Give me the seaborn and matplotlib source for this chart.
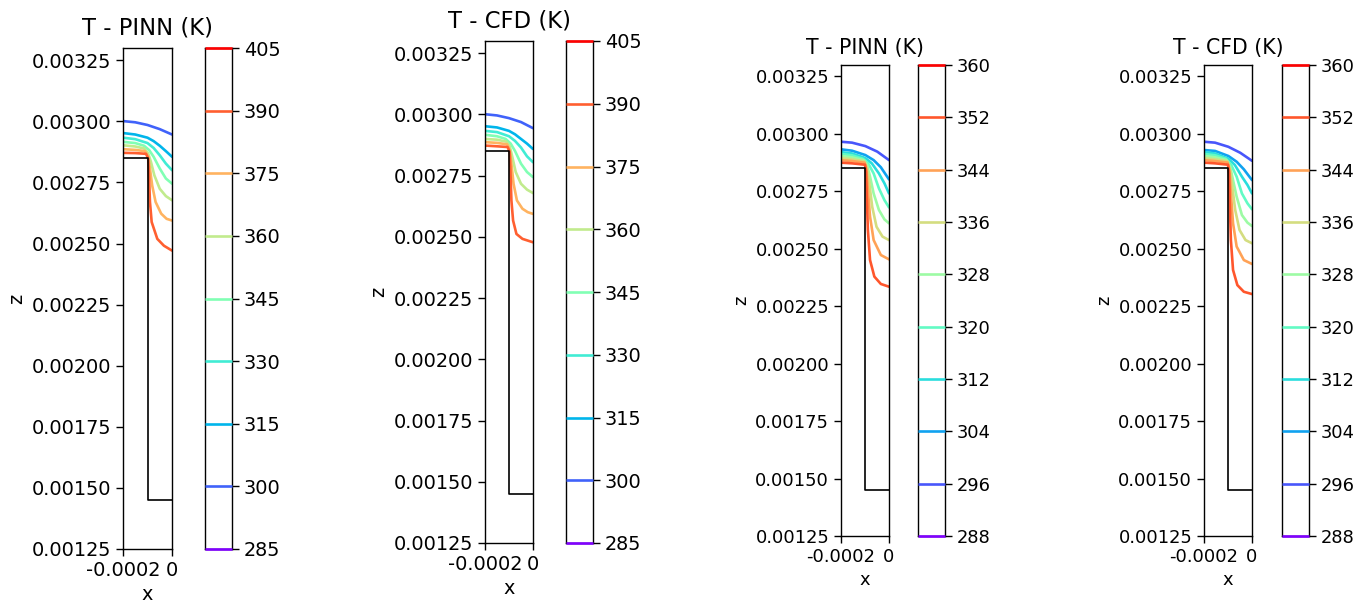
import matplotlib
matplotlib.use("Agg")
import matplotlib.pyplot as plt
import seaborn as sns

# ---------------- data ----------------
titles = ["T - PINN (K)", "T - CFD (K)", "T - PINN (K)", "T - CFD (K)"]

levels_a = [285, 300, 315, 330, 345, 360, 375, 390, 405]
levels_b = [288, 296, 304, 312, 320, 328, 336, 344, 352, 360]

z_ticks = [0.00125, 0.0015, 0.00175, 0.002, 0.00225, 0.0025, 0.00275, 0.003, 0.00325]
x_ticks = [-0.0002, 0.0]
x_tick_labels = ["-0.0002", "0"]

# solid boundary (step) outline
boundary_x = [-0.0002, -0.0001, -0.0001, 0.0]
boundary_z = [0.00285, 0.00285, 0.00145, 0.00145]

# panel 1 (PINN, case A): contour lines for levels 300..390
p1_x = [
    [-0.0002, -0.00015, -0.0001, -0.00005, 0.0],
    [-0.0002, -0.00015, -0.0001, -0.000075, -0.00005, -0.000025, 0.0],
    [-0.0002, -0.00015, -0.0001, -0.000075, -0.00005, -0.000025, 0.0],
    [-0.0002, -0.00015, -0.000114, -0.000093, -0.000075, -0.00005, -0.000025, 0.0],
    [-0.0002, -0.00015, -0.000114, -0.000097, -0.000086, -0.000072, -0.00005, -0.000025, 0.0],
    [-0.0002, -0.00015, -0.000111, -0.000097, -0.00009, -0.000081, -0.000067, -0.000044, -0.000022, 0.0],
    [-0.0002, -0.00015, -0.000106, -0.000097, -0.000094, -0.00009, -0.000083, -0.00006, -0.000033, 0.0],
]
p1_z = [
    [0.003001, 0.002996, 0.002985, 0.002968, 0.002946],
    [0.002952, 0.002946, 0.002933, 0.002919, 0.0029, 0.002878, 0.002855],
    [0.002933, 0.002927, 0.002911, 0.002891, 0.002861, 0.002827, 0.0028],
    [0.002916, 0.002911, 0.0029, 0.002882, 0.002855, 0.002807, 0.002766, 0.002745],
    [0.002902, 0.002897, 0.002889, 0.002868, 0.002834, 0.002779, 0.002724, 0.002694, 0.002677],
    [0.002886, 0.002883, 0.002878, 0.002855, 0.002807, 0.002738, 0.00267, 0.002622, 0.002601, 0.002594],
    [0.002871, 0.00287, 0.002867, 0.002848, 0.002779, 0.00267, 0.002588, 0.002519, 0.002491, 0.002471],
]

# panel 2 (CFD, case A)
p2_x = [
    [-0.0002, -0.00015, -0.0001, -0.00005, 0.0],
    [-0.0002, -0.00015, -0.0001, -0.000075, -0.00005, -0.000025, 0.0],
    [-0.0002, -0.00015, -0.0001, -0.000075, -0.00005, -0.000025, 0.0],
    [-0.0002, -0.00015, -0.000114, -0.000093, -0.000075, -0.00005, -0.000025, 0.0],
    [-0.0002, -0.00015, -0.000111, -0.000097, -0.000086, -0.000072, -0.00005, -0.000025, 0.0],
    [-0.0002, -0.00015, -0.000108, -0.000097, -0.00009, -0.000081, -0.000067, -0.000044, -0.000022, 0.0],
    [-0.0002, -0.00015, -0.000106, -0.000097, -0.000094, -0.00009, -0.000083, -0.000069, -0.000044, 0.0],
]
p2_z = [
    [0.003001, 0.002996, 0.002985, 0.002969, 0.002944],
    [0.002952, 0.002947, 0.002933, 0.002919, 0.0029, 0.002881, 0.002859],
    [0.002933, 0.002928, 0.002911, 0.002892, 0.002865, 0.002829, 0.002805],
    [0.002917, 0.002911, 0.0029, 0.002881, 0.002851, 0.002799, 0.002765, 0.002744],
    [0.0029, 0.002897, 0.002889, 0.00287, 0.002826, 0.002765, 0.002717, 0.002693, 0.002679],
    [0.002887, 0.002884, 0.002878, 0.002854, 0.002799, 0.002717, 0.002649, 0.002615, 0.002601, 0.002594],
    [0.002873, 0.00287, 0.002867, 0.002847, 0.002772, 0.002649, 0.002567, 0.002512, 0.002492, 0.002478],
]

# panels 3 & 4 (case B): contour lines for levels 296..352 (shared x samples)
pb_x = [
    [-0.0002, -0.000154, -0.0000985, -0.000049, 0.0],
    [-0.0002, -0.000154, -0.0000985, -0.000064, -0.000034, 0.0],
    [-0.0002, -0.000154, -0.0000985, -0.0000716, -0.000042, -0.000019, 0.0],
    [-0.0002, -0.000154, -0.000109, -0.0000866, -0.000064, -0.000042, -0.000019, 0.0],
    [-0.0002, -0.000154, -0.000106, -0.000091, -0.000079, -0.000064, -0.000042, -0.000019, 0.0],
    [-0.0002, -0.000154, -0.000103, -0.000091, -0.000082, -0.00007, -0.000052, -0.000027, 0.0],
    [-0.0002, -0.000154, -0.0001015, -0.000094, -0.000088, -0.000079, -0.000064, -0.000034, 0.0],
    [-0.0002, -0.000154, -0.0001, -0.0000955, -0.0000925, -0.000088, -0.000079, -0.000061, -0.000034, 0.0],
]
p3_z = [
    [0.002966, 0.002962, 0.002947, 0.002923, 0.002886],
    [0.002933, 0.002927, 0.002908, 0.002886, 0.002855, 0.002802],
    [0.002921, 0.002915, 0.002895, 0.002872, 0.002828, 0.002785, 0.002741],
    [0.002913, 0.002907, 0.002892, 0.002872, 0.002828, 0.002763, 0.002712, 0.00268],
    [0.002904, 0.002898, 0.002886, 0.002865, 0.002814, 0.002741, 0.002669, 0.002628, 0.002611],
    [0.002895, 0.002889, 0.002881, 0.00285, 0.002785, 0.002683, 0.002596, 0.002553, 0.002538],
    [0.002886, 0.002882, 0.002875, 0.002846, 0.002756, 0.00264, 0.002538, 0.002473, 0.002454],
    [0.002875, 0.002872, 0.002866, 0.002836, 0.002727, 0.002582, 0.002451, 0.002379, 0.002347, 0.002335],
]
p4_z = [
    [0.002966, 0.002962, 0.002944, 0.002918, 0.002883],
    [0.00293, 0.002926, 0.002904, 0.002879, 0.002846, 0.002799],
    [0.002921, 0.002915, 0.002892, 0.002865, 0.002814, 0.002778, 0.002741],
    [0.002913, 0.002907, 0.002892, 0.002865, 0.002814, 0.002741, 0.002698, 0.002672],
    [0.002904, 0.002898, 0.002886, 0.002857, 0.002799, 0.002727, 0.002647, 0.002614, 0.002599],
    [0.002895, 0.002889, 0.002881, 0.002843, 0.00277, 0.002669, 0.002582, 0.002538, 0.002524],
    [0.002886, 0.002882, 0.002875, 0.002843, 0.002741, 0.002611, 0.00251, 0.002451, 0.002434],
    [0.002875, 0.002872, 0.002866, 0.002828, 0.002698, 0.002538, 0.002408, 0.002342, 0.002313, 0.002303],
]

# ---------------- style ----------------
sns.set_style("ticks", rc={
    "axes.edgecolor": "black", "xtick.color": "black", "ytick.color": "black",
    "text.color": "black", "axes.labelcolor": "black",
})
plt.rcParams["font.family"] = ["DejaVu Sans"]
plt.rcParams["axes.unicode_minus"] = False

W, H = 1368, 603
fig = plt.figure(figsize=(W / 100, H / 100), dpi=100)
fig.patch.set_facecolor("white")


def add_px_axes(l, t, r, b):
    return fig.add_axes([l / W, 1 - b / H, (r - l) / W, (b - t) / H])


layout = [
    ((123, 48, 172, 549), (205, 48, 232, 549), 13.9, 16.3, 10),
    ((485, 41, 533, 543), (566, 41, 593, 543), 13.9, 16.3, 10),
    ((841, 65, 889, 536), (918, 65, 945, 536), 12.9, 14.8, 8),
    ((1204, 65, 1252, 536), (1282, 65, 1309, 536), 12.9, 14.8, 8),
]
panel_levels = [levels_a, levels_a, levels_b, levels_b]
panel_x = [p1_x, p2_x, pb_x, pb_x]
panel_z = [p1_z, p2_z, p3_z, p4_z]

cmap = plt.get_cmap("rainbow")
LW = 1.9

for i in range(4):
    box, cbox, fs, fs_t, pad = layout[i]
    levels = panel_levels[i]
    norm = plt.Normalize(levels[0], levels[-1])
    ax = add_px_axes(*box)
    cax = add_px_axes(*cbox)

    for lev, xs, zs in zip(levels[1:-1], panel_x[i], panel_z[i]):
        sns.lineplot(x=xs, y=zs, sort=False, estimator=None, color=cmap(norm(lev)),
                     lw=LW, ax=ax)
    ax.plot(boundary_x, boundary_z, color="black", lw=1.2)

    ax.set_xlim(-0.0002, 0.0)
    ax.set_ylim(0.00125, 0.0033)
    ax.set_xticks(x_ticks)
    ax.set_xticklabels(x_tick_labels, fontsize=fs)
    ax.set_yticks(z_ticks)
    ax.set_yticklabels([f"{v:.5f}" for v in z_ticks], fontsize=fs)
    ax.set_xlabel("x", fontsize=fs)
    ax.set_ylabel("z", fontsize=fs)
    ax.set_title(titles[i], fontsize=fs_t, pad=pad)
    ax.tick_params(length=5, width=1.0)
    for s in ax.spines.values():
        s.set_linewidth(1.0)
        s.set_visible(True)

    # colorbar for contour lines
    cax.hlines(levels, 0, 1, colors=[cmap(norm(v)) for v in levels], lw=LW,
               zorder=3, clip_on=False)
    cax.set_xlim(0, 1)
    cax.set_ylim(levels[0], levels[-1])
    cax.set_xticks([])
    cax.yaxis.tick_right()
    cax.set_yticks(levels)
    cax.set_yticklabels([str(v) for v in levels], fontsize=fs)
    cax.tick_params(axis="y", length=5, width=1.0, left=False, right=True)
    for s in cax.spines.values():
        s.set_linewidth(1.0)
        s.set_visible(True)

fig.savefig("out.png", dpi=100, facecolor="white")
